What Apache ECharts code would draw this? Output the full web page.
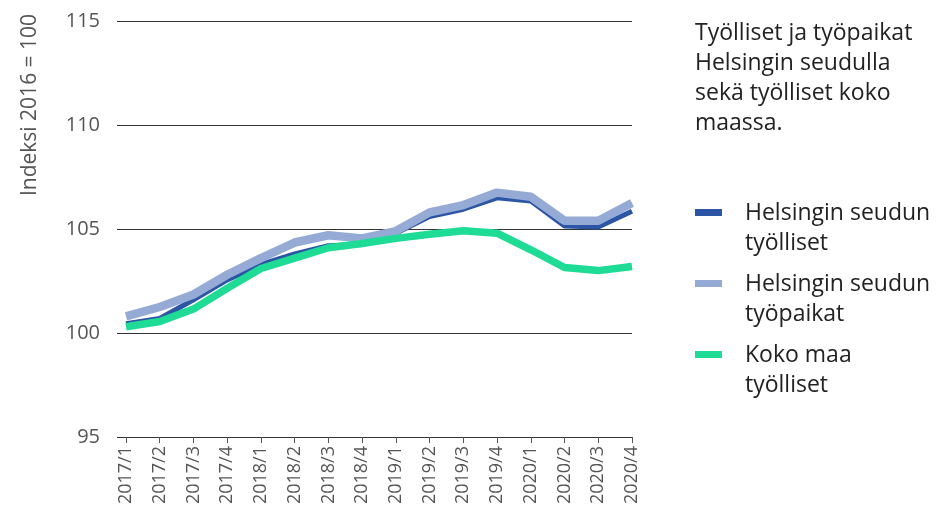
<!DOCTYPE html>
<html>
<head>
<meta charset="utf-8">
<script src="https://cdn.jsdelivr.net/npm/echarts@6/dist/echarts.min.js"></script>
<style>
    html, body { margin: 0; padding: 0; background: #fff; }
    #chart { width: 951px; height: 510px; }
</style>
</head>
<body>
<div id="chart"></div>
<script>
    // vuosineljännekset
    var quarters = ['2017/1', '2017/2', '2017/3', '2017/4', '2018/1', '2018/2', '2018/3', '2018/4',
        '2019/1', '2019/2', '2019/3', '2019/4', '2020/1', '2020/2', '2020/3', '2020/4'];
    var helsinkiEmployed = [100.45, 100.7, 101.6, 102.55, 103.3, 103.8, 104.2, 104.25,
        104.8, 105.6, 105.95, 106.5, 106.35, 105.15, 105.1, 105.85];
    var helsinkiJobs = [100.8, 101.25, 101.85, 102.8, 103.6, 104.35, 104.7, 104.55,
        104.9, 105.8, 106.15, 106.75, 106.55, 105.4, 105.4, 106.25];
    var wholeCountry = [100.3, 100.55, 101.15, 102.15, 103.1, 103.6, 104.1, 104.3,
        104.55, 104.75, 104.92, 104.8, 104.0, 103.15, 103.0, 103.2];
    var yTicks = [95, 100, 105, 110, 115];

    var names = ['Helsingin seudun työlliset', 'Helsingin seudun työpaikat', 'Koko maa työlliset'];
    var colors = ['#2d55a6', '#95abd6', '#1edb95'];
    var font = '"Open Sans", Lato, sans-serif';

    var myChart = echarts.init(document.getElementById('chart'));

    // legenda piirretään käsin, jotta merkki osuu ensimmäiselle riville
    var legendRows = [
        ['Helsingin seudun', 'työlliset'],
        ['Helsingin seudun', 'työpaikat'],
        ['Koko maa', 'työlliset']
    ];
    var graphics = [
        {
            type: 'text', left: 695, top: 18,
            style: {
                text: 'Työlliset ja työpaikat\nHelsingin seudulla\nsekä työlliset koko\nmaassa.',
                font: '23px ' + font, fill: '#222', lineHeight: 30
            }
        },
        {
            type: 'text', x: 30, y: 105, rotation: Math.PI / 2,
            style: {
                text: 'Indeksi 2016 = 100', font: '21px ' + font, fill: '#555',
                align: 'center', verticalAlign: 'middle'
            }
        }
    ];
    legendRows.forEach(function (row, i) {
        var top = 198 + i * 71;
        graphics.push({
            type: 'rect', shape: { x: 695, y: top + 11, width: 27, height: 7 },
            style: { fill: colors[i] }
        });
        graphics.push({
            type: 'text', left: 745, top: top,
            style: { text: row.join('\n'), font: '23px ' + font, fill: '#222', lineHeight: 30 }
        });
    });

    var widths = [5, 8.5, 7.5];
    var option = {
        animation: false,
        grid: { left: 126, right: 319, top: 21, bottom: 73 },
        xAxis: {
            type: 'category',
            data: quarters,
            boundaryGap: false,
            axisLine: { lineStyle: { color: '#333', width: 1.2 } },
            axisTick: { show: true, length: 6, lineStyle: { color: '#555' } },
            axisLabel: { rotate: 90, fontSize: 18, color: '#555', fontFamily: font, margin: 9 }
        },
        yAxis: {
            type: 'value',
            min: 95, max: 115, interval: 5,
            axisLine: { show: false },
            axisTick: { show: true, length: 9, lineStyle: { color: '#333' } },
            axisLabel: { fontSize: 20, color: '#555', fontFamily: font, margin: 26 },
            splitLine: { lineStyle: { color: '#333', width: 1 } }
        },
        graphic: graphics,
        series: [helsinkiEmployed, helsinkiJobs, wholeCountry].map(function (d, i) {
            return {
                name: names[i],
                type: 'line',
                data: d,
                symbol: 'none',
                lineStyle: { color: colors[i], width: widths[i] },
                z: 2 + i
            };
        })
    };
    myChart.setOption(option);
    window.addEventListener('resize', myChart.resize);
</script>
</body>
</html>
